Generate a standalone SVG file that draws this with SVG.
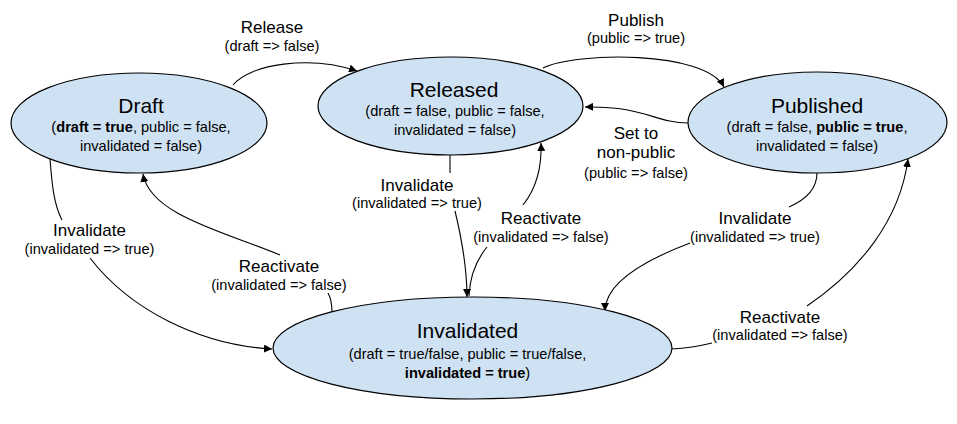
<svg xmlns="http://www.w3.org/2000/svg" width="957" height="424" viewBox="0 0 957 424">
<style>
.node{fill:#cfe2f3;stroke:#000;stroke-width:1.2}
.edge{fill:none;stroke:#000;stroke-width:1.1}
text{font-family:"Liberation Sans",Arial,sans-serif;fill:#000;text-anchor:middle}
.nt{font-size:21px}
.ns{font-size:14.6px}
.et{font-size:17px}
.es{font-size:14.6px}
.b{font-weight:bold}
</style>
<defs>
<marker id="arr" viewBox="0 0 10 10" refX="10" refY="5" markerWidth="8" markerHeight="8" markerUnits="userSpaceOnUse" orient="auto">
<path d="M0,0 L10,5 L0,10 z" fill="#000"/>
</marker>
</defs>
<rect width="957" height="424" fill="#fff"/>
<g id="connectors">
<path class="edge" d="M233,85 C250,64 310,55 357,71" marker-end="url(#arr)"/>
<path class="edge" d="M543,68 C575,52 705,50 724,87" marker-end="url(#arr)"/>
<path class="edge" d="M688,123 C655,123 645,106 585,107" marker-end="url(#arr)"/>
<path class="edge" d="M450,155 L450,173"/>
<path class="edge" d="M455,211 C462,240 467,270 467,297" marker-end="url(#arr)"/>
<path class="edge" d="M469,296 C470,272 478,258 487,247"/>
<path class="edge" d="M523,205 C535,190 542,170 541,143" marker-end="url(#arr)"/>
<path class="edge" d="M50,159 C52,185 54,205 62,220"/>
<path class="edge" d="M90,258 C130,310 200,345 272,349" marker-end="url(#arr)"/>
<path class="edge" d="M332,313 C332,305 331,298 328,293"/>
<path class="edge" d="M280,255 C225,232 150,215 143,174" marker-end="url(#arr)"/>
<path class="edge" d="M817,173 C817,190 805,200 789,207"/>
<path class="edge" d="M690,243 C640,262 605,285 605,311" marker-end="url(#arr)"/>
<path class="edge" d="M671,349 C690,348 700,346 712,343"/>
<path class="edge" d="M807,306 C860,270 900,220 908,159" marker-end="url(#arr)"/>
</g>
<g id="edge-labels">
<text class="et" x="272" y="33">Release</text>
<text class="es" x="272" y="51">(draft =&gt; false)</text>
<text class="et" x="636" y="26">Publish</text>
<text class="es" x="636" y="43">(public =&gt; true)</text>
<text class="et" x="636" y="139">Set to</text>
<text class="et" x="636" y="158">non-public</text>
<text class="es" x="636" y="178">(public =&gt; false)</text>
<text class="et" x="417" y="191">Invalidate</text>
<text class="es" x="417" y="208">(invalidated =&gt; true)</text>
<text class="et" x="541" y="224">Reactivate</text>
<text class="es" x="541" y="242">(invalidated =&gt; false)</text>
<text class="et" x="89.5" y="236">Invalidate</text>
<text class="es" x="89.5" y="254">(invalidated =&gt; true)</text>
<text class="et" x="279" y="272">Reactivate</text>
<text class="es" x="279" y="290">(invalidated =&gt; false)</text>
<text class="et" x="755" y="224">Invalidate</text>
<text class="es" x="755" y="242">(invalidated =&gt; true)</text>
<text class="et" x="780" y="323">Reactivate</text>
<text class="es" x="780" y="340">(invalidated =&gt; false)</text>
</g>
<g id="draft">
<ellipse class="node" cx="139" cy="123" rx="128" ry="50"/>
<text class="nt" x="141" y="113">Draft</text>
<text class="ns" x="141" y="132">(<tspan class="b">draft = true</tspan>, public = false,</text>
<text class="ns" x="141" y="151">invalidated = false)</text>
</g>
<g id="released">
<ellipse class="node" cx="450.5" cy="106" rx="132.5" ry="49"/>
<text class="nt" x="454" y="97">Released</text>
<text class="ns" x="455" y="116">(draft = false, public = false,</text>
<text class="ns" x="455" y="135">invalidated = false)</text>
</g>
<g id="published">
<ellipse class="node" cx="817.5" cy="122.5" rx="129.5" ry="50.5"/>
<text class="nt" x="817" y="113">Published</text>
<text class="ns" x="817" y="132">(draft = false, <tspan class="b">public = true</tspan>,</text>
<text class="ns" x="817" y="151">invalidated = false)</text>
</g>
<g id="invalidated">
<ellipse class="node" cx="472.5" cy="348" rx="199.5" ry="51"/>
<text class="nt" x="467.5" y="338">Invalidated</text>
<text class="ns" x="467.5" y="359">(draft = true/false, public = true/false,</text>
<text class="ns" x="467.5" y="378"><tspan class="b">invalidated = true</tspan>)</text>
</g>
</svg>
